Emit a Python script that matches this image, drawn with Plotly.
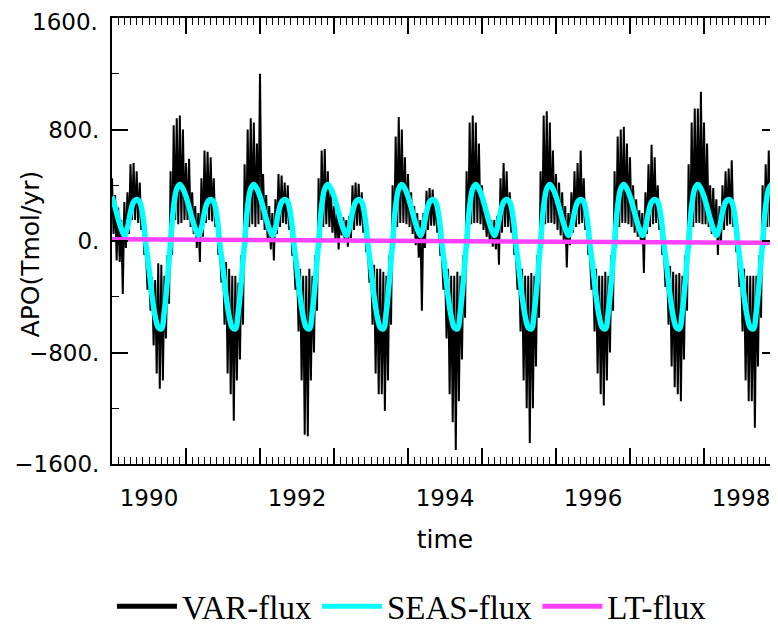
import plotly.graph_objects as go

# ---------------- data ----------------
years = [1990, 1991, 1992, 1993, 1994, 1995, 1996, 1997, 1998]
x_tick_labels = ["1990", "1992", "1994", "1996", "1998"]
y_tick_values = [-1600, -800, 0, 800, 1600]
y_tick_labels = ["\u22121600.", "\u2212800.", "0.", "800.", "1600."]

# SEAS-flux: one seasonal cycle, 24 half-month values (Tmol/yr)
seas_cycle = [320, 243, 160, 88, 40, 95, 207, 279, 297, 280, 180, -25,
              -200, -395, -540, -620, -630, -500, -270, -10, 250, 375, 405, 375]

# LT-flux: yearly values at 1 January (1990 ... 1999)
lt_values = [12, 9, 6, 4, 1, -2, -5, -8, -11, -13]

# VAR-flux: upper / lower envelope of the high-frequency signal, per half month
var_hi_1990 = [450, 330, 240, 150, 280, 350, 550, 560, 500, 420, 250, -50, -200, -260, -280, -160, -170, -250, -100, 500, 830, 880, 900, 800]
var_lo_1990 = [50, -140, -150, -380, -50, 50, 150, 150, 130, 80, -100, -350, -500, -750, -950, -1060, -1000, -700, -450, -100, 150, 120, 130, 150]
var_hi_1991 = [560, 590, 350, 250, 200, 450, 650, 640, 600, 450, 250, -50, -100, -150, -200, -250, -250, -300, -100, 550, 800, 880, 850, 700]
var_lo_1991 = [150, 100, 50, -50, -150, 30, 130, 150, 140, 100, -100, -300, -600, -950, -1100, -1290, -1000, -850, -600, -50, 100, 120, 100, 120]
var_hi_1992 = [1200, 480, 330, 250, 200, 300, 480, 470, 420, 400, 200, -100, -150, -200, -250, -250, -200, -250, -100, 450, 650, 660, 500, 350]
var_lo_1992 = [150, 80, 0, -60, -140, 50, 100, 130, 120, 80, -100, -350, -650, -1000, -1390, -1400, -1000, -800, -500, -50, 100, 120, 100, 60]
var_hi_1993 = [250, 230, 200, 170, 150, 180, 400, 420, 410, 350, 200, -60, -130, -170, -200, -200, -220, -250, -100, 400, 750, 890, 800, 600]
var_lo_1993 = [0, -60, 40, -10, -40, 20, 80, 110, 110, 60, -80, -300, -600, -950, -1100, -1100, -1220, -1000, -600, -50, 100, 130, 130, 120]
var_hi_1994 = [480, 350, 250, 200, 150, 200, 360, 380, 370, 300, 150, -100, -150, -200, -250, -250, -220, -250, -100, 500, 850, 900, 850, 700]
var_lo_1994 = [100, 50, -30, -120, -500, -50, 80, 110, 110, 60, -100, -350, -700, -1100, -1300, -1500, -1150, -850, -550, -50, 120, 130, 130, 120]
var_hi_1995 = [400, 250, 180, 150, 150, 180, 450, 560, 500, 350, 150, -80, -150, -200, -250, -250, -230, -250, -100, 500, 900, 930, 850, 650]
var_lo_1995 = [80, 30, 0, -40, -60, -170, 60, 100, 100, 60, -100, -350, -650, -1000, -1200, -1450, -1200, -900, -550, -50, 120, 130, 130, 120]
var_hi_1996 = [480, 420, 350, 250, 200, 350, 500, 560, 650, 450, 200, -80, -150, -200, -250, -250, -220, -250, -100, 500, 750, 800, 820, 700]
var_lo_1996 = [80, 40, 0, -190, -30, 60, 100, 120, 130, 80, -100, -350, -650, -950, -1100, -1180, -1000, -800, -500, -50, 100, 130, 130, 120]
var_hi_1997 = [600, 400, 300, 220, 200, 350, 550, 690, 600, 400, 200, -60, -130, -180, -220, -240, -230, -250, -100, 550, 850, 950, 950, 1070]
var_lo_1997 = [100, 60, 30, 0, -230, 50, 100, 120, 130, 80, -100, -330, -600, -900, -1050, -1100, -1150, -850, -500, -50, 100, 130, 130, 120]
var_hi_1998 = [850, 700, 400, 380, 300, 250, 400, 500, 520, 580, 250, -60, -150, -200, -250, -250, -250, -250, -100, 400, 550, 650, 700, 780]
var_lo_1998 = [120, 100, 50, 30, -100, -20, 80, 110, 120, 100, -80, -330, -650, -1000, -1150, -1150, -1340, -900, -550, -50, 100, 100, 110, 120]

# ---------------- build series ----------------
var_hi = (var_hi_1990 + var_hi_1991 + var_hi_1992 + var_hi_1993 + var_hi_1994
          + var_hi_1995 + var_hi_1996 + var_hi_1997 + var_hi_1998)
var_lo = (var_lo_1990 + var_lo_1991 + var_lo_1992 + var_lo_1993 + var_lo_1994
          + var_lo_1995 + var_lo_1996 + var_lo_1997 + var_lo_1998)

var_t, var_v = [], []
for k, (h, l) in enumerate(zip(var_hi, var_lo)):
    var_t += [1990 + k / 24, 1990 + k / 24 + 1 / 48]
    var_v += [h, l]

seas_values = seas_cycle * len(years) + seas_cycle[:1]
seas_t = [1990 + k / 24 for k in range(len(seas_values))]
lt_t = years + [1999]

TICK_FONT = dict(family="DejaVu Sans", size=23, color="black")
TITLE_FONT = dict(family="DejaVu Sans", size=25, color="black")

fig = go.Figure()
fig.add_trace(go.Scatter(x=var_t, y=var_v, mode="lines", showlegend=False,
                         line=dict(color="black", width=2, simplify=False)))
fig.add_trace(go.Scatter(x=seas_t, y=seas_values, mode="lines", showlegend=False,
                         line=dict(color="#00ffff", width=5.5, shape="spline")))
fig.add_trace(go.Scatter(x=lt_t, y=lt_values, mode="lines", showlegend=False,
                         xaxis="x2", line=dict(color="#ff40ff", width=4.5)))
# legend entries
for name, col in [("VAR-flux", "black"), ("SEAS-flux", "#00ffff"), ("LT-flux", "#ff40ff")]:
    fig.add_trace(go.Scatter(x=[None], y=[None], mode="lines", name=name,
                             line=dict(color=col, width=5)))

# the page body adds an 8 px offset, so the figure is 8 px smaller and margins shifted
fig.update_layout(
    width=770, height=618,
    margin=dict(l=104, r=0, t=10, b=162, autoexpand=False),
    plot_bgcolor="white", paper_bgcolor="white",
    xaxis=dict(range=[1990, 1999], tickmode="array", tickvals=lt_t, automargin=False,
               ticks="inside", ticklen=16, tickwidth=1.5, tickcolor="black",
               showticklabels=False, showline=True, linecolor="black", linewidth=2,
               mirror="ticks", showgrid=False, zeroline=False,
               minor=dict(tick0=1990, dtick=1 / 12, ticks="inside", ticklen=7,
                          tickwidth=1.2, tickcolor="black", showgrid=False)),
    xaxis2=dict(range=[1990, 1999], overlaying="x", anchor="y", side="bottom",
                automargin=False, ticklabeloverflow="allow",
                tickmode="array", tickvals=[y + 0.5 for y in years[::2]],
                ticktext=x_tick_labels, ticks="", showline=False, showgrid=False,
                zeroline=False, tickfont=TICK_FONT, ticklabelstandoff=18,
                title=dict(text="time", font=TITLE_FONT, standoff=20)),
    yaxis=dict(range=[-1600, 1600], tickmode="array", tickvals=y_tick_values,
               automargin=False, ticklabeloverflow="allow",
               ticktext=y_tick_labels[:-1] + [""], ticks="inside", ticklen=16,
               tickwidth=1.5,
               tickcolor="black", showline=True, linecolor="black", linewidth=2,
               mirror="ticks", showgrid=False, zeroline=False, tickfont=TICK_FONT,
               ticklabelstandoff=6,
               minor=dict(dtick=400, ticks="inside", ticklen=7, tickwidth=1.2,
                          tickcolor="black", showgrid=False)),
    annotations=[
        dict(text="APO(Tmol/yr)", textangle=-90, xref="paper", yref="paper",
             x=-0.123, y=0.47, xanchor="center", yanchor="middle",
             showarrow=False, font=TITLE_FONT),
        # top tick label, kept just inside the page edge
        dict(text=y_tick_labels[-1], xref="paper", yref="y", x=0, y=y_tick_values[-1],
             xanchor="right", yanchor="middle", xshift=-12, yshift=-4,
             showarrow=False, font=TICK_FONT),
    ],
    legend=dict(orientation="h", xref="container", yref="container",
                x=0.135, xanchor="left", y=0.032, yanchor="middle",
                font=dict(family="Liberation Serif", size=33, color="black"),
                itemwidth=60, bgcolor="rgba(0,0,0,0)"),
)

fig.write_html("out.html")
